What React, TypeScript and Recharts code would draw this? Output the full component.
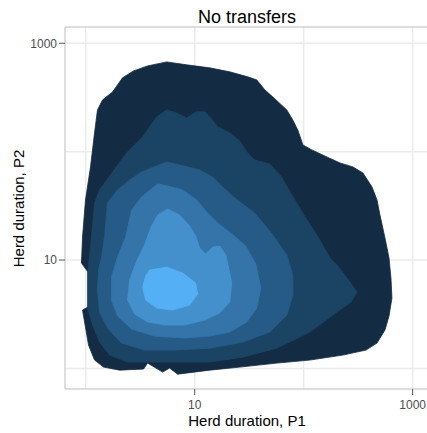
import React from 'react';
import {
    ScatterChart,
    Scatter,
    XAxis,
    YAxis,
    CartesianGrid,
    ReferenceLine
} from 'recharts';

// Density contour outlines, log10(herd duration) for P1 (x) and P2 (y),
// from the outermost level to the peak.
const level1: [number, number][] = [
    [0.743, 2.828], [0.926, 2.801], [1.138, 2.773], [1.322, 2.736], [1.487, 2.690],
    [1.570, 2.662], [1.643, 2.570], [1.717, 2.505], [1.845, 2.385], [1.900, 2.293],
    [1.946, 2.200], [1.993, 2.062], [2.075, 2.016], [2.213, 1.951], [2.333, 1.896],
    [2.452, 1.859], [2.544, 1.803], [2.627, 1.674], [2.673, 1.554], [2.700, 1.415],
    [2.746, 1.203], [2.783, 1.019], [2.801, 0.834], [2.810, 0.649], [2.783, 0.483],
    [2.746, 0.354], [2.673, 0.234], [2.572, 0.169], [2.360, 0.123], [2.057, 0.077],
    [1.754, 0.049], [1.414, 0.012], [1.138, -0.016], [0.844, -0.053], [0.770, 0.003],
    [0.706, -0.034], [0.568, 0.049], [0.531, -0.006], [0.311, -0.016], [0.164, 0.012],
    [0.081, 0.077], [0.026, 0.215], [-0.029, 0.538], [0.035, 0.575], [0.044, 0.862],
    [0.007, 0.908], [-0.039, 0.972], [-0.029, 1.212], [-0.002, 1.554], [0.044, 1.859],
    [0.081, 2.173], [0.108, 2.385], [0.154, 2.477], [0.246, 2.551], [0.338, 2.681],
    [0.439, 2.745], [0.568, 2.791]
];

const level2: [number, number][] = [
    [0.651, 2.320], [0.743, 2.385], [0.834, 2.357], [0.926, 2.311], [1.018, 2.367],
    [1.092, 2.367], [1.147, 2.311], [1.211, 2.228], [1.322, 2.173], [1.414, 2.099],
    [1.478, 1.997], [1.551, 1.923], [1.689, 1.886], [1.790, 1.776], [1.892, 1.600],
    [2.002, 1.415], [2.149, 1.185], [2.241, 1.019], [2.314, 0.945], [2.425, 0.797],
    [2.489, 0.705], [2.434, 0.612], [2.305, 0.520], [2.057, 0.335], [1.754, 0.187],
    [1.441, 0.104], [1.138, 0.058], [0.770, 0.058], [0.384, 0.058], [0.219, 0.123],
    [0.127, 0.243], [0.063, 0.400], [0.017, 0.557], [0.017, 0.889], [0.035, 1.028],
    [0.053, 1.212], [0.081, 1.526], [0.127, 1.647], [0.246, 1.813], [0.375, 1.988],
    [0.522, 2.136]
];

const level3: [number, number][] = [
    [0.651, 1.868], [0.743, 1.905], [0.862, 1.877], [1.046, 1.831], [1.165, 1.766],
    [1.257, 1.674], [1.368, 1.572], [1.551, 1.434], [1.717, 1.231], [1.845, 1.046],
    [1.900, 0.862], [1.900, 0.677], [1.845, 0.492], [1.689, 0.335], [1.441, 0.243],
    [1.138, 0.187], [0.816, 0.169], [0.540, 0.169], [0.329, 0.234], [0.200, 0.372],
    [0.127, 0.520], [0.108, 0.723], [0.118, 0.908], [0.145, 1.028], [0.173, 1.212],
    [0.200, 1.526], [0.292, 1.647], [0.403, 1.739], [0.513, 1.813]
];

const level4: [number, number][] = [
    [0.660, 1.702], [0.752, 1.683], [0.890, 1.647], [1.018, 1.554], [1.110, 1.443],
    [1.211, 1.342], [1.340, 1.240], [1.469, 1.129], [1.561, 0.963], [1.607, 0.741],
    [1.570, 0.557], [1.478, 0.428], [1.322, 0.335], [1.138, 0.298], [0.908, 0.280],
    [0.632, 0.298], [0.421, 0.363], [0.292, 0.483], [0.237, 0.631], [0.237, 0.843],
    [0.292, 1.028], [0.366, 1.212], [0.421, 1.462], [0.513, 1.582]
];

const level5: [number, number][] = [
    [0.660, 1.415], [0.752, 1.471], [0.862, 1.415], [0.954, 1.314], [1.009, 1.222],
    [1.046, 1.111], [1.101, 1.055], [1.165, 1.120], [1.230, 1.129], [1.285, 1.046],
    [1.312, 0.926], [1.340, 0.788], [1.322, 0.612], [1.230, 0.511], [1.092, 0.446],
    [0.908, 0.400], [0.724, 0.400], [0.568, 0.428], [0.449, 0.501], [0.384, 0.631],
    [0.403, 0.816], [0.467, 0.991], [0.540, 1.139], [0.596, 1.296]
];

const level6: [number, number][] = [
    [0.586, 0.908], [0.743, 0.935], [0.890, 0.880], [1.009, 0.788], [1.027, 0.686],
    [0.954, 0.584], [0.798, 0.538], [0.651, 0.557], [0.550, 0.631], [0.522, 0.751],
    [0.550, 0.852]
];

const levels = [level1, level2, level3, level4, level5, level6];
const levelColors = ['#132B43', '#1B4464', '#265B87', '#3474A8', '#4490CD', '#55AFF5'];

const axisTicks = [1, 3];
const gridLines = [0, 1, 2, 3];
const logDomain: [number, number] = [-0.19, 3.15];

const fontFamily = '"Liberation Sans", Arial, Helvetica, sans-serif';

const NoDot = () => <g />;

const fmtTick = (v: number) => String(Math.round(Math.pow(10, v)));

export default function App() {
    return (
        <div
            style={{
                position: 'absolute',
                left: 0,
                top: 0,
                width: 427,
                height: 433,
                overflow: 'hidden',
                background: '#fff',
                fontFamily
            }}
        >
            <ScatterChart
                width={432}
                height={433}
                margin={{ top: 27, right: 3, bottom: 0, left: 0 }}
            >
                <CartesianGrid
                    stroke="#ebebeb"
                    strokeWidth={1.5}
                    verticalValues={gridLines}
                    horizontalValues={gridLines}
                />
                <XAxis
                    type="number"
                    dataKey="x"
                    domain={logDomain}
                    allowDataOverflow
                    ticks={axisTicks}
                    tickFormatter={fmtTick}
                    height={44}
                    tickSize={6}
                    tickMargin={5}
                    axisLine={{ stroke: '#bdbdbd' }}
                    tickLine={{ stroke: '#555' }}
                    tick={{ fontSize: 12, fill: '#4d4d4d', fontFamily }}
                />
                <YAxis
                    type="number"
                    dataKey="y"
                    domain={logDomain}
                    allowDataOverflow
                    ticks={axisTicks}
                    tickFormatter={fmtTick}
                    width={65}
                    tickSize={6}
                    tickMargin={2}
                    axisLine={{ stroke: '#bdbdbd' }}
                    tickLine={{ stroke: '#555' }}
                    tick={{ fontSize: 12, fill: '#4d4d4d', fontFamily }}
                />
                <ReferenceLine y={logDomain[1]} stroke="#bdbdbd" ifOverflow="visible" />
                {levels.map((poly, i) => (
                    <Scatter
                        key={`level-${i}`}
                        data={poly.map(([x, y]) => ({ x, y }))}
                        fill={levelColors[i]}
                        line={{ fill: levelColors[i], stroke: levelColors[i], strokeWidth: 0.8 }}
                        lineType="joint"
                        lineJointType="linearClosed"
                        shape={NoDot}
                        isAnimationActive={false}
                    />
                ))}
            </ScatterChart>

            <div
                style={{
                    position: 'absolute',
                    left: 147,
                    top: 8,
                    width: 200,
                    textAlign: 'center',
                    fontSize: 18,
                    lineHeight: '18px',
                    color: '#000'
                }}
            >
                No transfers
            </div>
            <div
                style={{
                    position: 'absolute',
                    left: 147,
                    top: 413,
                    width: 200,
                    textAlign: 'center',
                    fontSize: 15,
                    lineHeight: '15px',
                    color: '#000'
                }}
            >
                Herd duration, P1
            </div>
            <div
                style={{
                    position: 'absolute',
                    left: -82,
                    top: 200.5,
                    width: 200,
                    textAlign: 'center',
                    fontSize: 15,
                    lineHeight: '15px',
                    color: '#000',
                    transform: 'rotate(-90deg)'
                }}
            >
                Herd duration, P2
            </div>
        </div>
    );
}
